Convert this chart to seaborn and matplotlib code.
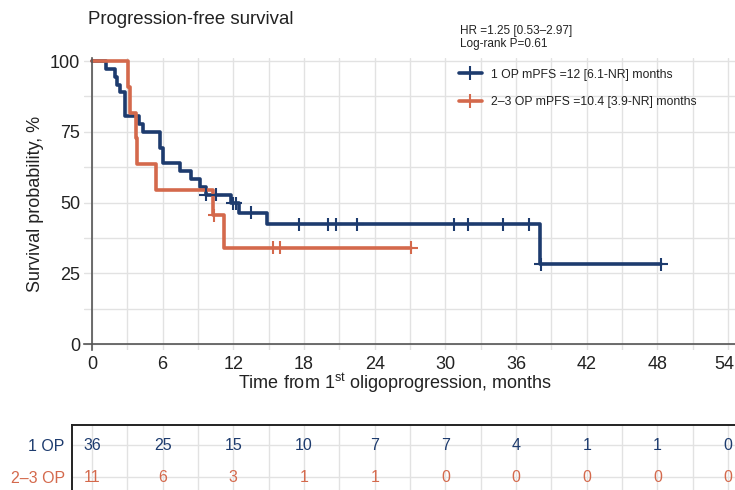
import matplotlib
matplotlib.use("Agg")
import matplotlib.pyplot as plt
from matplotlib.lines import Line2D
from matplotlib.transforms import ScaledTranslation
import numpy as np
import pandas as pd
import seaborn as sns

# ---------------- data ----------------
op1_time = [0, 1.23, 1.94, 2.14, 2.37, 2.79, 4.0, 4.34, 5.75, 6.03, 7.44, 8.43, 9.19, 9.64, 11.8, 12.45, 14.9, 38.0, 48.3]
op1_surv = [100, 97.2, 94.4, 91.7, 88.9, 80.6, 77.8, 75.0, 69.4, 63.9, 61.1, 58.3, 55.6, 52.8, 49.7, 46.4, 42.3, 28.2, 28.2]
op1_cens_time = [9.64, 10.54, 11.94, 12.2, 13.5, 17.6, 20.0, 20.7, 22.5, 30.7, 31.9, 34.9, 37.1, 38.1, 48.3]
op1_cens_surv = [52.8, 52.8, 49.7, 49.7, 46.4, 42.3, 42.3, 42.3, 42.3, 42.3, 42.3, 42.3, 42.3, 28.2, 28.2]

op23_time = [0, 3.07, 3.21, 3.78, 3.83, 5.41, 10.25, 11.24, 27.1]
op23_surv = [100, 90.9, 81.8, 72.7, 63.6, 54.5, 45.5, 34.1, 34.1]
op23_cens_time = [10.4, 15.4, 16.0, 27.1]
op23_cens_surv = [45.5, 34.1, 34.1, 34.1]

groups = ["1 OP", "2–3 OP"]
legend_labels = ["1 OP mPFS =12 [6.1-NR] months", "2–3 OP mPFS =10.4 [3.9-NR] months"]
risk_times = [0, 6, 12, 18, 24, 30, 36, 42, 48, 54]
risk_op1 = [36, 25, 15, 10, 7, 7, 4, 1, 1, 0]
risk_op23 = [11, 6, 3, 1, 1, 0, 0, 0, 0, 0]
x_ticks = [0, 6, 12, 18, 24, 30, 36, 42, 48, 54]
y_ticks = [0, 25, 50, 75, 100]

BLUE = "#1d3b6e"
ORANGE = "#d4694c"
palette = {groups[0]: BLUE, groups[1]: ORANGE}

# ---------------- style ----------------
sns.set_style("white")
plt.rcParams["font.family"] = ["Liberation Sans", "DejaVu Sans"]
plt.rcParams["mathtext.fontset"] = "custom"
plt.rcParams["mathtext.rm"] = "Liberation Sans"
plt.rcParams["mathtext.it"] = "Liberation Sans:italic"
TXT = "#222222"

fig = plt.figure(figsize=(7.35, 4.9), dpi=100)
W, H = 735.0, 490.0
ax = fig.add_axes([84.3 / W, 1 - 349.7 / H, 650.9 / W, 291.5 / H])

curve = pd.DataFrame({
    "time": op1_time + op23_time,
    "surv": op1_surv + op23_surv,
    "group": [groups[0]] * len(op1_time) + [groups[1]] * len(op23_time),
})
cens = pd.DataFrame({
    "time": op1_cens_time + op23_cens_time,
    "surv": op1_cens_surv + op23_cens_surv,
    "group": [groups[0]] * len(op1_cens_time) + [groups[1]] * len(op23_cens_time),
})

ax.set_axisbelow(True)
for xv in np.arange(0, 55, 3):
    ax.axvline(xv, color="#e2e2e2", lw=1.0, zorder=0)
for yv in np.arange(0, 101, 12.5):
    ax.axhline(yv, color="#e2e2e2", lw=1.0, zorder=0)

sns.lineplot(data=curve, x="time", y="surv", hue="group", hue_order=groups,
             palette=palette, drawstyle="steps-post", estimator=None, sort=False,
             linewidth=2.6, legend=False, ax=ax)
sns.scatterplot(data=cens, x="time", y="surv", hue="group", hue_order=groups,
                palette=palette, marker="+", s=90, linewidth=1.5, legend=False,
                ax=ax, zorder=5)

ax.set_xlim(-0.65, 54.6)
ax.set_ylim(-2, 101)
ax.set_xticks(x_ticks)
ax.set_yticks(y_ticks)
ax.tick_params(axis="both", labelsize=13, length=5, width=1, colors="#444444",
               labelcolor=TXT, direction="out")
ax.spines["left"].set_position(("data", 0))
ax.spines["bottom"].set_position(("data", 0))
for s in ["top", "right"]:
    ax.spines[s].set_visible(False)
for s in ["left", "bottom"]:
    ax.spines[s].set_color("#555555")
    ax.spines[s].set_linewidth(1.2)
ax.set_xlabel("")
ax.set_ylabel("Survival probability, %", fontsize=13, color=TXT, labelpad=4)

# keep the last tick label inside the figure
last = ax.get_xticklabels()[-1]
last.set_transform(last.get_transform() + ScaledTranslation(-4 / 100, 0, fig.dpi_scale_trans))

fig.text(395 / W, 1 - 383 / H, r"Time from 1$^{\rm st}$ oligoprogression, months",
         ha="center", va="center", fontsize=13, color=TXT)
fig.text(88 / W, 1 - 20 / H, "Progression-free survival", ha="left", va="center",
         fontsize=13.4, color=TXT)
fig.text(460 / W, 1 - 31 / H, "HR =1.25 [0.53–2.97]", ha="left", va="center",
         fontsize=8.5, color=TXT)
fig.text(460 / W, 1 - 43.5 / H, "Log-rank P=0.61", ha="left", va="center",
         fontsize=8.5, color=TXT)

handles = [Line2D([], [], color=palette[g], lw=2.6, marker="+", ms=10, mew=1.5)
           for g in groups]
leg = ax.legend(handles, legend_labels, loc="upper left",
                bbox_to_anchor=(450 / W, 1 - 60 / H), bbox_transform=fig.transFigure,
                frameon=False, fontsize=8.8, labelspacing=1.3, handlelength=1.9,
                handletextpad=0.75, borderpad=0.2)
for t in leg.get_texts():
    t.set_color(TXT)

# ---------------- risk table ----------------
tax = fig.add_axes([71.7 / W, 0, 663.3 / W, 65 / H])
tax.set_xlim(-1.72, 54.58)
tax.set_ylim(1.406, -0.625)
tax.set_xticks(np.arange(0, 55, 3))
tax.set_xticklabels([])
tax.set_yticks([0, 1])
tax.set_yticklabels(groups)
tax.tick_params(axis="both", length=0, labelsize=11.5, pad=5)
for lab, g in zip(tax.get_yticklabels(), groups):
    lab.set_color(palette[g])
tax.grid(True, color="#e2e2e2", lw=1.0)
tax.set_axisbelow(True)
for s in ["right", "bottom"]:
    tax.spines[s].set_visible(False)
for s in ["left", "top"]:
    tax.spines[s].set_color("#222222")
    tax.spines[s].set_linewidth(1.4)
for row, vals, g in [(0, risk_op1, groups[0]), (1, risk_op23, groups[1])]:
    for t, v in zip(risk_times, vals):
        tax.text(t, row, str(v), ha="center", va="center", fontsize=11.5,
                 color=palette[g])

fig.savefig("out.png", dpi=100)
